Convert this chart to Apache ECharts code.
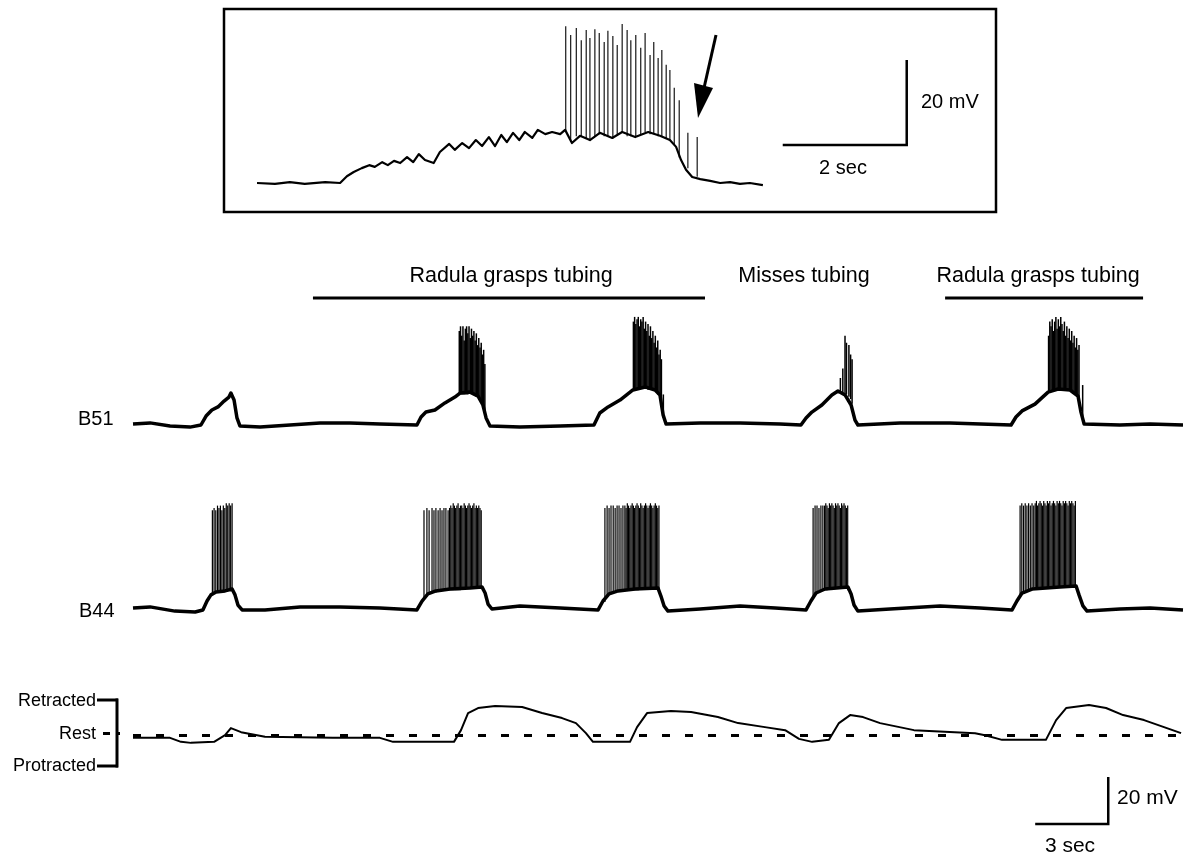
<!DOCTYPE html>
<html><head><meta charset="utf-8">
<script src="https://cdn.jsdelivr.net/npm/echarts@6/dist/echarts.min.js"></script>
<style>html,body{margin:0;padding:0;background:#fff}#c{width:1195px;height:858px}</style>
</head><body><div id="c"></div>
<script>
// ---------- DATA (time in s, potential in mV above resting level) ----------
// Inset: B51 burst, expanded time scale
const insetTrace = [[0,0],[0.29,-0.2],[0.53,0.2],[0.77,-0.2],[1.10,0.2],[1.34,0],[1.45,1.6],[1.56,2.6],[1.69,3.5],[1.81,4.2],[1.90,3.8],[2.02,4.9],[2.11,4.2],[2.21,5.2],[2.31,4.7],[2.42,6.1],[2.52,4.9],[2.61,6.8],[2.71,5.4],[2.85,4.7],[2.95,7.3],[3.10,9.2],[3.19,7.8],[3.31,9.4],[3.42,8.2],[3.53,10.1],[3.63,8.7],[3.74,10.8],[3.84,8.7],[3.94,11.3],[4.03,9.6],[4.13,11.8],[4.23,10.1],[4.32,12.0],[4.44,10.6],[4.53,12.5],[4.65,11.5],[4.76,12.0],[4.89,11.5],[4.97,12.5],[5.08,9.4],[5.21,11.1],[5.37,10.1],[5.53,11.8],[5.73,10.6],[5.89,12.0],[6.10,10.8],[6.31,12.0],[6.50,11.1],[6.66,10.1],[6.76,8.5],[6.84,5.4],[6.92,3.1],[7.02,1.4],[7.15,0.9],[7.31,0.5],[7.47,0],[7.63,0.2],[7.79,-0.2],[7.95,0],[8.16,-0.5]];
// spikes: [time, foot, peak]
const insetSpikes = [[4.98,12,36.9],[5.06,10,34.8],[5.15,11,36.5],[5.23,11,33.6],[5.31,10.5,36.0],[5.37,10,34.1],[5.45,11,36.2],[5.52,11.5,35.3],[5.60,11,33.2],[5.66,11,35.8],[5.74,10.5,34.6],[5.81,11.5,32.5],[5.89,12,37.4],[5.97,11,36.0],[6.03,11,33.6],[6.11,11,34.8],[6.19,11.5,31.8],[6.26,12,35.3],[6.34,11.5,30.1],[6.40,11.5,33.2],[6.47,11,29.4],[6.53,11,31.3],[6.60,10.5,27.8],[6.66,10,26.6],[6.73,9,22.4],[6.81,6,19.5],[6.95,3.5,11.8],[7.10,1.5,10.8]];
const insetScaleBar = [[8.48,8.94],[10.48,8.94],[10.48,28.94]];   // 2 sec, 20 mV

// B51
const b51Trace = [[0,0.4],[0.70,0.9],[1.52,-0.4],[2.34,-0.9],[2.79,0],[3.00,3.8],[3.24,6.4],[3.49,7.7],[3.74,10.2],[3.94,11.9],[4.02,13.6],[4.15,10.6],[4.27,3.0],[4.39,-0.4],[5.22,-0.9],[6.45,0],[7.68,0.9],[8.91,0.9],[10.14,0.4],[11.66,0],[11.83,3.4],[12.03,5.5],[12.40,6.4],[12.81,9.4],[13.22,11.9],[13.43,13.6],[13.84,14.0],[14.17,12.3],[14.37,8.5],[14.50,3.0],[14.66,-0.4],[15.89,-0.9],[17.54,-0.4],[18.93,0],[19.17,5.1],[19.51,7.7],[20.00,10.6],[20.53,14.9],[21.03,16.2],[21.44,14.9],[21.64,12.8],[21.77,4.3],[21.89,0.4],[23.29,0.9],[24.93,0.9],[26.57,0.4],[27.43,0],[27.64,3.0],[27.88,5.5],[28.29,8.5],[28.70,12.8],[28.95,14.5],[29.24,12.8],[29.49,8.5],[29.65,2.1],[29.77,0],[31.50,0.9],[33.55,0.9],[36.06,0],[36.26,3.4],[36.51,6.0],[37.04,8.9],[37.58,14.0],[37.99,15.3],[38.48,14.9],[38.81,12.3],[38.93,5.5],[39.06,0.4],[40.53,0],[41.77,0.4],[43.12,0]];
const b51Spikes = [
 [13.40,13,40],[13.45,13,42],[13.50,13,38],[13.55,13,42],[13.60,13,36],[13.65,13,41],[13.70,13,42],[13.75,13,39],[13.80,14,42],[13.85,14,37],[13.90,14,41],[13.95,13,38],[14.00,13,40],[14.05,13,36],[14.10,12,39],[14.15,12,34],[14.20,12,37],[14.25,11,33],[14.30,10,35],[14.35,9,30],[14.40,7,32],[14.45,5,26],
 [20.55,15,44],[20.60,15,46],[20.65,15,43],[20.70,15,45],[20.75,16,46],[20.80,16,42],[20.85,16,45],[20.90,16,44],[20.95,16,46],[21.00,16,41],[21.05,16,44],[21.10,16,40],[21.15,15,43],[21.20,15,38],[21.25,15,42],[21.30,15,37],[21.35,15,40],[21.40,15,35],[21.45,15,38],[21.50,14,33],[21.55,13,36],[21.60,13,30],[21.65,12,32],[21.70,9,28],[21.78,3,13],
 [29.05,14,20],[29.15,13,24],[29.24,13,38],[29.30,13,35],[29.40,12,34],[29.47,11,30],[29.53,9,28],
 [37.60,14,38],[37.65,14,44],[37.70,15,42],[37.75,15,45],[37.80,15,40],[37.85,15,44],[37.90,15,46],[37.95,15,41],[38.00,15,45],[38.05,15,42],[38.10,15,46],[38.15,15,43],[38.20,15,40],[38.25,15,44],[38.30,15,38],[38.35,15,42],[38.40,15,37],[38.45,15,41],[38.50,15,36],[38.55,14,40],[38.60,14,35],[38.65,14,38],[38.70,13,33],[38.75,13,37],[38.80,12,32],[38.85,11,34],[39.00,2,17]];

// B44
const b44Trace = [[0,0.4],[0.70,0.9],[1.72,-0.9],[2.55,-1.3],[2.87,-0.4],[3.04,3.4],[3.20,6.0],[3.41,7.2],[3.78,7.7],[4.07,8.5],[4.19,6.0],[4.31,1.7],[4.48,-0.4],[5.42,-0.4],[6.86,0.9],[8.50,0.9],[10.14,0.4],[11.66,-0.4],[11.87,3.4],[12.11,6.4],[12.44,7.7],[13.02,8.5],[13.84,8.9],[14.33,9.4],[14.46,6.8],[14.58,2.1],[14.74,0],[15.89,1.3],[17.54,0.4],[19.10,-0.4],[19.30,3.4],[19.55,6.4],[19.92,7.7],[20.62,8.5],[21.56,8.9],[21.68,5.5],[21.81,1.3],[21.97,-0.9],[23.29,0],[24.93,1.3],[26.37,0.4],[27.64,-0.4],[27.84,3.4],[28.05,6.8],[28.42,8.5],[29.36,9.4],[29.49,6.4],[29.61,1.7],[29.77,-0.9],[31.09,0],[33.14,1.3],[34.78,0.4],[36.10,-0.4],[36.30,3.4],[36.51,6.8],[36.92,8.5],[38.07,9.4],[38.73,9.8],[38.85,6.0],[39.01,1.3],[39.18,-0.9],[40.53,0],[41.77,0.4],[43.12,-0.4]];
const b44Spikes = [
 [3.26,6,42],[3.33,7,43],[3.40,7,42],[3.47,7,44],[3.53,8,43],[3.59,8,44],[3.65,8,42],[3.71,8,44],[3.77,8,43],[3.83,8,45],[3.89,8,44],[3.95,8,45],[4.01,8,44],[4.07,8,45],
 [11.95,4,42],[12.07,6,43],[12.16,6,42],[12.28,7,43],[12.36,7,42],[12.44,7,43],[12.53,8,42],[12.61,8,43],[12.69,8,42],[12.77,8,43],[12.85,8,43],[12.94,8,42],
 [13.00,8,43],[13.05,8,44],[13.10,8,43],[13.15,8,45],[13.20,8,44],[13.25,8,43],[13.30,8,44],[13.35,8,45],[13.40,8,43],[13.45,8,44],[13.50,9,44],[13.55,9,43],[13.60,9,45],[13.65,9,44],[13.70,9,43],[13.75,9,44],[13.80,9,45],[13.85,9,44],[13.90,9,43],[13.95,9,44],[14.00,9,45],[14.05,9,43],[14.10,9,44],[14.15,9,43],[14.20,9,44],[14.25,9,43],[14.30,9,42],
 [19.38,3,43],[19.47,5,44],[19.55,6,43],[19.63,7,44],[19.72,7,44],[19.80,8,43],[19.88,8,44],[19.96,8,44],[20.04,8,43],[20.12,8,44],
 [20.20,8,44],[20.25,8,43],[20.30,8,45],[20.35,8,44],[20.40,8,43],[20.45,8,44],[20.50,8,45],[20.55,8,44],[20.60,8,43],[20.65,8,44],[20.70,8,45],[20.75,8,44],[20.80,9,43],[20.85,9,45],[20.90,9,44],[20.95,9,43],[21.00,9,44],[21.05,9,45],[21.10,9,44],[21.15,9,43],[21.20,9,44],[21.25,9,45],[21.30,9,44],[21.35,9,43],[21.40,9,44],[21.45,9,45],[21.50,9,44],[21.55,9,43],[21.60,8,44],
 [27.93,5,43],[28.01,6,44],[28.09,7,44],[28.17,8,43],[28.25,8,44],[28.33,8,44],
 [28.40,8,44],[28.45,8,45],[28.50,8,44],[28.55,9,43],[28.60,9,45],[28.65,9,44],[28.70,9,45],[28.75,9,44],[28.80,9,43],[28.85,9,45],[28.90,9,44],[28.95,9,45],[29.00,9,44],[29.05,9,43],[29.10,9,45],[29.15,9,44],[29.20,9,45],[29.25,9,44],[29.30,9,43],[29.35,8,44],
 [36.43,5,44],[36.50,6,45],[36.57,7,44],[36.64,8,45],[36.71,8,44],[36.78,8,45],[36.85,8,44],[36.92,8,45],[36.99,9,44],
 [37.05,9,45],[37.10,9,46],[37.15,9,44],[37.20,9,45],[37.25,9,46],[37.30,9,45],[37.35,9,44],[37.40,9,46],[37.45,9,45],[37.50,9,44],[37.55,9,46],[37.60,9,45],[37.65,9,46],[37.70,9,44],[37.75,9,45],[37.80,9,46],[37.85,9,45],[37.90,9,44],[37.95,9,46],[38.00,9,45],[38.05,9,46],[38.10,9,45],[38.15,9,44],[38.20,9,46],[38.25,9,45],[38.30,10,46],[38.35,10,45],[38.40,10,44],[38.45,10,46],[38.50,10,45],[38.55,10,46],[38.60,10,45],[38.65,10,44],[38.70,10,46]];

// Radula movement (1 = retracted, 0 = rest, -1 = protracted)
const moveTrace = [[0,-0.07],[0.16,-0.07],[1.52,-0.07],[1.97,-0.19],[2.38,-0.22],[3.33,-0.19],[3.78,0.01],[4.02,0.22],[4.44,0.10],[5.42,-0.04],[8.21,-0.07],[10.14,-0.07],[10.68,-0.19],[13.18,-0.19],[13.47,0.16],[13.76,0.67],[14.17,0.82],[14.87,0.88],[15.98,0.85],[16.80,0.67],[17.62,0.52],[18.19,0.37],[18.60,0.07],[18.89,-0.19],[20.41,-0.19],[20.70,0.25],[21.11,0.67],[22.09,0.73],[22.92,0.70],[24.02,0.55],[24.85,0.37],[25.95,0.25],[26.78,0.16],[27.35,-0.10],[27.89,-0.19],[28.58,-0.13],[28.99,0.37],[29.45,0.61],[29.98,0.55],[30.68,0.37],[32.07,0.16],[34.58,0.07],[34.99,0.01],[35.69,-0.13],[37.49,-0.13],[37.91,0.46],[38.32,0.82],[39.26,0.91],[39.96,0.82],[40.66,0.61],[41.52,0.46],[42.34,0.25],[43.04,0.07]];
const restLine = [[0,0],[43.12,0]];
const mainScaleBar = [[37.05,0],[40.05,0],[40.05,20]];   // 3 sec, 20 mV

// Behaviour periods (s)
const eventNames = ['Radula grasps tubing','Misses tubing','Radula grasps tubing'];
const eventBars = [[[7.39,0.2],[23.49,0.2]], [[33.35,0.2],[41.48,0.2]]];

// ---------- CHART ----------
const FONT = 'Liberation Sans, Arial, Helvetica, sans-serif';
const chart = echarts.init(document.getElementById('c'), null, {renderer:'canvas'});
const T = 43.12;
const grids = [
  {left:257, top:13, width:739, height:187},        // 0 inset
  {left:133, top:250, width:1050, height:60},       // 1 events
  {left:133, top:307.5, width:1050, height:141},    // 2 B51
  {left:133, top:491.5, width:1050, height:141},    // 3 B44
  {left:133, top:702, width:1050, height:67},       // 4 movement
  {left:133, top:769.95, width:1050, height:58.75}  // 5 scale bar
];
const xAxes = [
  {gridIndex:0, min:0, max:11.92},
  {gridIndex:1, min:0, max:T},
  {gridIndex:2, min:0, max:T},
  {gridIndex:3, min:0, max:T},
  {gridIndex:4, min:0, max:T},
  {gridIndex:5, min:0, max:T}
].map(a => Object.assign({type:'value', show:false}, a));
const yAxes = [
  {gridIndex:0, min:-4, max:40},
  {gridIndex:1, min:0, max:1},
  {gridIndex:2, min:-10, max:50},
  {gridIndex:3, min:-10, max:50},
  {gridIndex:4, min:-1, max:1},
  {gridIndex:5, min:-2, max:23}
].map(a => Object.assign({type:'value', show:false}, a));

function line(idx, data, w, extra){
  return Object.assign({type:'line', xAxisIndex:idx, yAxisIndex:idx, data:data, symbol:'none',
    silent:true, clip:false, lineStyle:{color:'#000', width:w, join:'round'}}, extra||{});
}
function spikes(idx, data, w){
  return {type:'custom', xAxisIndex:idx, yAxisIndex:idx, data:data, silent:true,
    encode:{x:0, y:[1,2]},
    renderItem:function(params, api){
      const a = api.coord([api.value(0), api.value(1)]);
      const b = api.coord([api.value(0), api.value(2)]);
      return {type:'line', shape:{x1:a[0], y1:a[1], x2:b[0], y2:b[1]}, style:{stroke:'#000', lineWidth:w}};
    }};
}

const txt = (x, y, s, size, align) => ({type:'text', x:x, y:y, style:{text:s, fill:'#000',
  font:'normal ' + size + 'px ' + FONT, textAlign:align||'left', textVerticalAlign:'middle'}, silent:true});
const seg = (x1,y1,x2,y2,w) => ({type:'line', shape:{x1,y1,x2,y2}, style:{stroke:'#000', lineWidth:w||3}, silent:true});

const option = {
  animation:false,
  backgroundColor:'#fff',
  grid:grids, xAxis:xAxes, yAxis:yAxes,
  series:[
    line(0, insetTrace, 2.2),
    spikes(0, insetSpikes, 1.1),
    line(0, insetScaleBar, 2.5, {lineStyle:{color:'#000', width:2.5, join:'miter'}}),
    line(1, eventBars[0], 3),
    line(1, eventBars[1], 3),
    line(2, b51Trace, 3.5),
    spikes(2, b51Spikes, 1.5),
    line(3, b44Trace, 3.5),
    spikes(3, b44Spikes, 1.2),
    line(4, restLine, 3, {lineStyle:{color:'#000', width:3, type:[8,15]}}),
    line(4, moveTrace, 2),
    line(5, mainScaleBar, 2.5, {lineStyle:{color:'#000', width:2.5, join:'miter'}})
  ],
  graphic:[
    {type:'rect', shape:{x:224, y:9, width:772, height:203}, style:{fill:'none', stroke:'#000', lineWidth:2.5}, silent:true},
    seg(716,35,704,88,3),
    {type:'polygon', shape:{points:[[694,83],[713,88],[698,118]]}, style:{fill:'#000'}, silent:true},
    txt(921,102,'20 mV',20),
    txt(843,168,'2 sec',20,'center'),
    txt(511,276,eventNames[0],21.5,'center'),
    txt(804,276,eventNames[1],21.5,'center'),
    txt(1038,276,eventNames[2],21.5,'center'),
    txt(78,419,'B51',20),
    txt(79,611,'B44',20),
    txt(96,701,'Retracted',18,'right'),
    txt(96,734,'Rest',18,'right'),
    txt(96,766,'Protracted',18,'right'),
    seg(117,698.5,117,767.5,3),
    seg(97,700,118,700,3),
    seg(97,766,118,766,3),
    seg(103,733.5,110,733.5,3),
    seg(117,733.5,120,733.5,3),
    txt(1117,798,'20 mV',21),
    txt(1070,846,'3 sec',21,'center')
  ]
};
chart.setOption(option);
</script></body></html>
